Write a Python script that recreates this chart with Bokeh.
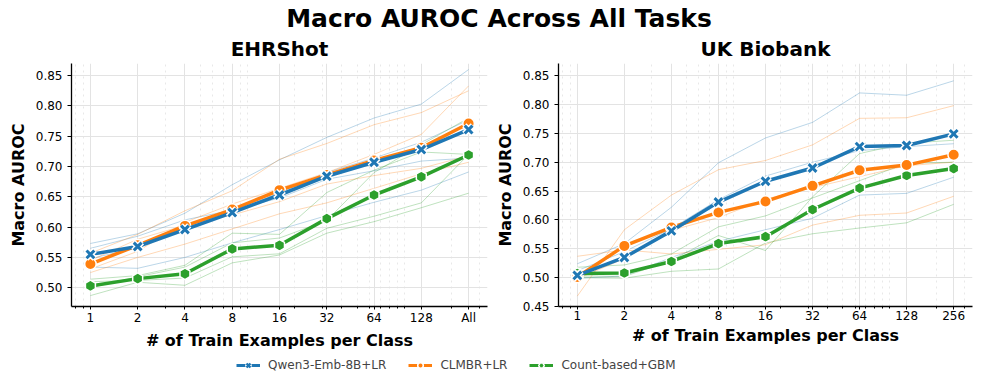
import numpy as np
from bokeh.plotting import figure
from bokeh.layouts import column, row
from bokeh.models import FixedTicker, Range1d, Legend, LegendItem, PrintfTickFormatter
from bokeh.core.properties import value
from bokeh.embed import file_html
from bokeh.resources import INLINE

FONT = "DejaVu Sans"
BLUE, ORANGE, GREEN = "#1f77b4", "#ff7f0e", "#2ca02c"

# ---------------- data ----------------
shots = [1, 2, 4, 8, 16, 32, 64, 128, 256]
ehr_tick_labels = ["1", "2", "4", "8", "16", "32", "64", "128", "All"]
ukb_tick_labels = ["1", "2", "4", "8", "16", "32", "64", "128", "256"]
minor_shots = [0.8, 0.9, 3, 5, 6, 7, 9, 10, 20, 30, 40, 50, 60, 70, 80, 90, 100, 200, 300]
ehr_yticks = [0.50, 0.55, 0.60, 0.65, 0.70, 0.75, 0.80, 0.85]
ukb_yticks = [0.45, 0.50, 0.55, 0.60, 0.65, 0.70, 0.75, 0.80, 0.85]

methods = ["Qwen3-Emb-8B+LR", "CLMBR+LR", "Count-based+GBM"]

# EHRShot: mean curves
ehr_qwen = [0.555, 0.568, 0.596, 0.624, 0.653, 0.684, 0.707, 0.728, 0.761]
ehr_clmbr = [0.539, 0.570, 0.602, 0.629, 0.661, 0.686, 0.710, 0.731, 0.771]
ehr_gbm = [0.503, 0.515, 0.523, 0.564, 0.570, 0.614, 0.653, 0.683, 0.719]
# EHRShot: per task-group curves
ehr_qwen_groups = [
    [0.573, 0.589, 0.623, 0.670, 0.711, 0.748, 0.780, 0.803, 0.860],
    [0.534, 0.532, 0.550, 0.574, 0.596, 0.619, 0.641, 0.661, 0.691],
    [0.565, 0.585, 0.612, 0.628, 0.648, 0.679, 0.693, 0.709, 0.714],
    [0.548, 0.566, 0.599, 0.625, 0.657, 0.690, 0.714, 0.740, 0.777],
]
ehr_clmbr_groups = [
    [0.557, 0.588, 0.627, 0.660, 0.712, 0.738, 0.769, 0.789, 0.825],
    [0.531, 0.560, 0.608, 0.638, 0.664, 0.690, 0.720, 0.753, 0.833],
    [0.525, 0.550, 0.572, 0.597, 0.622, 0.640, 0.664, 0.688, 0.707],
    [0.545, 0.580, 0.603, 0.620, 0.642, 0.671, 0.685, 0.697, 0.718],
]
ehr_gbm_groups = [
    [0.514, 0.520, 0.537, 0.590, 0.588, 0.657, 0.694, 0.724, 0.720],
    [0.487, 0.509, 0.504, 0.541, 0.554, 0.590, 0.609, 0.632, 0.656],
    [0.510, 0.512, 0.516, 0.551, 0.556, 0.598, 0.618, 0.640, 0.720],
    [0.500, 0.518, 0.534, 0.574, 0.582, 0.611, 0.690, 0.736, 0.780],
]

# UK Biobank: mean curves
ukb_qwen = [0.504, 0.535, 0.581, 0.631, 0.667, 0.690, 0.727, 0.729, 0.749]
ukb_clmbr = [0.501, 0.555, 0.587, 0.613, 0.632, 0.659, 0.686, 0.695, 0.713]
ukb_gbm = [0.507, 0.508, 0.528, 0.559, 0.571, 0.618, 0.655, 0.677, 0.689]
# UK Biobank: per task-group curves
ukb_qwen_groups = [
    [0.524, 0.559, 0.622, 0.699, 0.742, 0.769, 0.820, 0.816, 0.841],
    [0.512, 0.545, 0.585, 0.635, 0.676, 0.700, 0.720, 0.727, 0.732],
    [0.499, 0.503, 0.535, 0.563, 0.583, 0.603, 0.643, 0.646, 0.674],
]
ukb_clmbr_groups = [
    [0.468, 0.583, 0.643, 0.687, 0.703, 0.730, 0.776, 0.777, 0.798],
    [0.498, 0.533, 0.582, 0.604, 0.636, 0.656, 0.675, 0.694, 0.700],
    [0.537, 0.548, 0.541, 0.549, 0.557, 0.591, 0.608, 0.612, 0.641],
]
ukb_gbm_groups = [
    [0.518, 0.522, 0.541, 0.588, 0.607, 0.638, 0.668, 0.698, 0.700],
    [0.503, 0.502, 0.530, 0.573, 0.547, 0.640, 0.715, 0.733, 0.738],
    [0.500, 0.499, 0.511, 0.515, 0.560, 0.576, 0.586, 0.595, 0.627],
]


def draw_mark(p, xs, ys, kind, color):
    if kind == "x":
        p.scatter(xs, ys, marker="x", size=12, line_color="white", line_width=6)
        p.scatter(xs, ys, marker="x", size=11, line_color=color, line_width=3)
    elif kind == "circle":
        p.scatter(xs, ys, marker="circle", size=11.5, fill_color=color,
                  line_color="white", line_width=1.5)
    else:
        p.scatter(xs, ys, marker="hex", size=11.5, angle=np.pi / 6, fill_color=color,
                  line_color="white", line_width=1.5)


def panel(title, width, border_left, border_right, yr, yticks, tick_labels, mains, groups):
    p = figure(width=width, height=320, x_axis_type="log",
               x_range=Range1d(2 ** -0.4, 2 ** 8.4), y_range=Range1d(*yr),
               output_backend="svg", toolbar_location=None,
               min_border_left=border_left, min_border_right=border_right,
               min_border_top=30, min_border_bottom=45)
    p.outline_line_color = None
    p.background_fill_color = "white"
    p.title.text = title
    p.title.align = "center"
    p.title.text_font = FONT
    p.title.text_font_size = "20px"
    p.title.text_font_style = "bold"
    p.title.text_color = "black"
    p.title.standoff = 5

    p.xaxis.ticker = FixedTicker(ticks=shots, minor_ticks=minor_shots)
    p.xaxis.major_label_overrides = {s: lab for s, lab in zip(shots, tick_labels)}
    p.yaxis.ticker = FixedTicker(ticks=yticks)
    p.yaxis.formatter = PrintfTickFormatter(format="%.2f")
    p.xaxis.axis_label = "# of Train Examples per Class"
    p.yaxis.axis_label = "Macro AUROC"
    for ax in (p.xaxis, p.yaxis):
        ax.axis_label_text_font = FONT
        ax.axis_label_text_font_size = "16px"
        ax.axis_label_text_font_style = "bold"
        ax.axis_label_text_color = "black"
        ax.major_label_text_font = FONT
        ax.major_label_text_font_size = "12px"
        ax.major_label_text_color = "black"
        ax.axis_line_color = "black"
        ax.axis_line_width = 1.3
        ax.major_tick_line_color = "black"
        ax.major_tick_in = 0
    p.xaxis.major_tick_out = 3
    p.xaxis.major_label_standoff = 1
    p.xaxis.axis_label_standoff = 3
    p.yaxis.major_tick_out = 4
    p.yaxis.major_label_standoff = 5
    p.yaxis.axis_label_standoff = 5
    p.xaxis.minor_tick_in = 0
    p.xaxis.minor_tick_out = 2
    p.xaxis.minor_tick_line_color = "black"
    p.yaxis.minor_tick_line_color = None

    p.xgrid.grid_line_color = "#e3e3e3"
    p.ygrid.grid_line_color = "#e3e3e3"
    p.xgrid.minor_grid_line_color = "#e8e8e8"
    p.xgrid.minor_grid_line_dash = "dotted"

    colors = [BLUE, ORANGE, GREEN]
    for grp, c in zip(groups, colors):
        for ys in grp:
            p.line(shots, ys, line_color=c, line_width=1, line_alpha=0.3)
    kinds = ["x", "circle", "hex"]
    for i in [2, 1, 0]:
        p.line(shots, mains[i], line_color=colors[i], line_width=3.5)
        draw_mark(p, shots, mains[i], kinds[i], colors[i])
    return p


p1 = panel("EHRShot", 492, 71, 5, (0.469, 0.870), ehr_yticks, ehr_tick_labels,
           [ehr_qwen, ehr_clmbr, ehr_gbm], [ehr_qwen_groups, ehr_clmbr_groups, ehr_gbm_groups])
p2 = panel("UK Biobank", 505, 63, 25, (0.450, 0.871), ukb_yticks, ukb_tick_labels,
           [ukb_qwen, ukb_clmbr, ukb_gbm], [ukb_qwen_groups, ukb_clmbr_groups, ukb_gbm_groups])

# suptitle
pt = figure(width=997, height=32, x_range=(0, 997), y_range=(0, 32), x_axis_type=None,
            y_axis_type=None, output_backend="svg", toolbar_location=None, min_border=0)
pt.outline_line_color = None
pt.grid.visible = False
pt.text(x=[498.5], y=[14], text=["Macro AUROC Across All Tasks"], text_align="center",
        text_baseline="alphabetic", text_font=value(FONT), text_font_style="bold",
        text_font_size="25px", text_color="black")

# legend
pl = figure(width=997, height=25, x_range=(0, 1), y_range=(0, 1), x_axis_type=None,
            y_axis_type=None, output_backend="svg", toolbar_location=None, min_border=0)
pl.outline_line_color = None
pl.grid.visible = False
items = []
for name, c, kind in zip(methods, [BLUE, ORANGE, GREEN], ["x", "circle", "hex"]):
    rs = [pl.line([-5, -4], [-5, -4], line_color=c, line_width=3)]
    if kind == "x":
        rs.append(pl.scatter([-5], [-5], marker="x", size=9, line_color="white", line_width=4.5))
        rs.append(pl.scatter([-5], [-5], marker="x", size=8, line_color=c, line_width=2.4))
    elif kind == "circle":
        rs.append(pl.scatter([-5], [-5], marker="circle", size=10, fill_color=c,
                             line_color="white", line_width=1.5))
    else:
        rs.append(pl.scatter([-5], [-5], marker="hex", size=9, angle=np.pi / 6, fill_color=c,
                             line_color="white", line_width=1.5))
    items.append(LegendItem(label=name, renderers=rs))
leg = Legend(items=items, orientation="horizontal", location=(236, 5), glyph_width=24,
             glyph_height=14, label_height=14, label_standoff=8, spacing=22, padding=0,
             margin=0, border_line_color=None, background_fill_alpha=0,
             label_text_font=FONT, label_text_font_size="12px")
pl.add_layout(leg)

layout = column(pt, row(p1, p2), pl)
open("out.html", "w").write(file_html(layout, INLINE))
